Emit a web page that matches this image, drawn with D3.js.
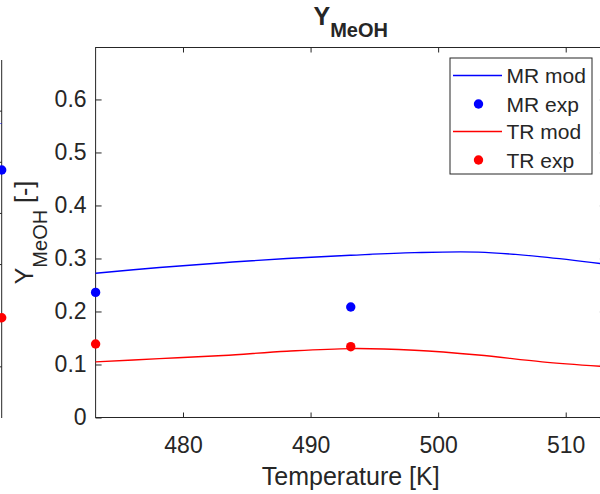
<!DOCTYPE html>
<html>
<head>
<meta charset="utf-8">
<script src="https://cdn.jsdelivr.net/npm/d3@7"></script>
<style>
  html, body { margin: 0; padding: 0; background: #fff; }
  svg { display: block; }
  text { font-family: "Liberation Sans", Arial, sans-serif; fill: #262626; }
</style>
</head>
<body>
<svg id="chart" width="600" height="494"></svg>
<script>
// ---- data ----
const temps = [473.15, 478.15, 483.15, 488.15, 493.15, 498.15, 503.15, 508.15, 513.15];
const mrMod = [0.272, 0.283, 0.292, 0.300, 0.306, 0.311, 0.312, 0.303, 0.289];
const trMod = [0.105, 0.111, 0.117, 0.125, 0.130, 0.127, 0.118, 0.105, 0.096];
const expTemps = [473.15, 493.15];
const mrExp = [0.236, 0.2085];
const trExp = [0.1387, 0.1336];
const xTicks = [480, 490, 500, 510];
const yTicks = [0, 0.1, 0.2, 0.3, 0.4, 0.5, 0.6];
const legendLabels = ["MR mod", "MR exp", "TR mod", "TR exp"];

// neighbouring (cut-off) subplot on the left
const leftTemps = [508.15, 513.15];
const leftMrMod = [0.580, 0.577];
const leftExpTemps = [513.15];
const leftMrExp = [0.485];
const leftTrExp = [0.196];
const leftYTicks = [0.1, 0.2, 0.3, 0.4, 0.5, 0.6];

const BLUE = "#0000ff", RED = "#ff0000", AX = "#262626";

const svg = d3.select("#chart");

// ---- main axes ----
const x = d3.scaleLinear().domain([473.15, 513.15]).range([95.6, 605.9]);
const y = d3.scaleLinear().domain([0, 0.698]).range([417.5, 47.5]);

const g = svg.append("g");

// box
g.append("rect")
  .attr("x", x.range()[0]).attr("y", y.range()[1])
  .attr("width", x.range()[1] - x.range()[0])
  .attr("height", y.range()[0] - y.range()[1])
  .attr("fill", "none").attr("stroke", AX).attr("stroke-width", 1);

function styleAxis(sel) {
  sel.select(".domain").remove();
  sel.selectAll(".tick line").attr("stroke", AX).attr("stroke-width", 1);
  sel.selectAll(".tick text").attr("fill", AX)
    .style("font-family", '"Liberation Sans", Arial, sans-serif')
    .style("font-size", "23px");
}

g.append("g").attr("transform", `translate(0,${y.range()[0]})`)
  .call(d3.axisBottom(x).tickValues(xTicks).tickFormat(d3.format("d"))
        .tickSize(-5).tickSizeOuter(0).tickPadding(19))
  .call(styleAxis);
g.append("g").attr("transform", `translate(0,${y.range()[1]})`)
  .call(d3.axisTop(x).tickValues(xTicks).tickFormat("")
        .tickSize(-5).tickSizeOuter(0))
  .call(styleAxis);
g.append("g").attr("transform", `translate(${x.range()[0]},0)`)
  .call(d3.axisLeft(y).tickValues(yTicks)
        .tickFormat(d => d === 0 ? "0" : d3.format(".1f")(d))
        .tickSize(-6).tickSizeOuter(0).tickPadding(9))
  .call(styleAxis);
g.append("g").attr("transform", `translate(${x.range()[1]},0)`)
  .call(d3.axisRight(y).tickValues(yTicks).tickFormat("")
        .tickSize(-6).tickSizeOuter(0))
  .call(styleAxis);

// lines
const line = d3.line().x(d => x(d[0])).y(d => y(d[1])).curve(d3.curveCatmullRom);
g.append("path").datum(temps.map((t, i) => [t, mrMod[i]]))
  .attr("d", line).attr("fill", "none").attr("stroke", BLUE).attr("stroke-width", 1.4);
g.append("path").datum(temps.map((t, i) => [t, trMod[i]]))
  .attr("d", line).attr("fill", "none").attr("stroke", RED).attr("stroke-width", 1.4);

// points
g.selectAll(".mrexp").data(expTemps.map((t, i) => [t, mrExp[i]])).enter()
  .append("circle").attr("cx", d => x(d[0])).attr("cy", d => y(d[1]))
  .attr("r", 4.7).attr("fill", BLUE);
g.selectAll(".trexp").data(expTemps.map((t, i) => [t, trExp[i]])).enter()
  .append("circle").attr("cx", d => x(d[0])).attr("cy", d => y(d[1]))
  .attr("r", 4.7).attr("fill", RED);

// ---- left cut-off subplot ----
const xl = d3.scaleLinear().domain([473.15, 513.15]).range([1.7 - 510, 1.7]);
const yl = d3.scaleLinear().domain([0, 0.7]).range([418, 60]);
const gl = svg.append("g");
gl.append("line").attr("x1", xl.range()[1]).attr("x2", xl.range()[1])
  .attr("y1", yl.range()[1]).attr("y2", yl.range()[0])
  .attr("stroke", AX).attr("stroke-width", 1);
gl.selectAll(".lt").data(leftYTicks).enter().append("line")
  .attr("x1", xl.range()[1] - 6).attr("x2", xl.range()[1])
  .attr("y1", d => yl(d)).attr("y2", d => yl(d))
  .attr("stroke", AX).attr("stroke-width", 1);
const linel = d3.line().x(d => xl(d[0])).y(d => yl(d[1]));
gl.append("path").datum(leftTemps.map((t, i) => [t, leftMrMod[i]]))
  .attr("d", linel).attr("fill", "none").attr("stroke", BLUE).attr("stroke-width", 1.4);
gl.selectAll(".lmr").data(leftExpTemps.map((t, i) => [t, leftMrExp[i]])).enter()
  .append("circle").attr("cx", d => xl(d[0])).attr("cy", d => yl(d[1]))
  .attr("r", 4.7).attr("fill", BLUE);
gl.selectAll(".ltr").data(leftExpTemps.map((t, i) => [t, leftTrExp[i]])).enter()
  .append("circle").attr("cx", d => xl(d[0])).attr("cy", d => yl(d[1]))
  .attr("r", 4.7).attr("fill", RED);

// ---- texts ----
const cx = (x.range()[0] + x.range()[1]) / 2;
const title = svg.append("text").attr("x", cx).attr("y", 25)
  .attr("text-anchor", "middle").style("font-weight", "bold").style("font-size", "25px");
title.append("tspan").text("Y");
title.append("tspan").attr("dy", 12).style("font-size", "20px").text("MeOH");

svg.append("text").attr("x", cx).attr("y", 485)
  .attr("text-anchor", "middle").style("font-size", "25px").text("Temperature [K]");

const cy = (y.range()[0] + y.range()[1]) / 2;
const yl2 = svg.append("text").attr("transform", `translate(33,${cy}) rotate(-90)`)
  .attr("text-anchor", "middle").style("font-size", "25px");
yl2.append("tspan").text("Y");
yl2.append("tspan").attr("dy", 14).style("font-size", "20px").text("MeOH");
yl2.append("tspan").attr("dy", -14).text(" [-]");

// ---- legend ----
const lg = svg.append("g");
lg.append("rect").attr("x", 450).attr("y", 58).attr("width", 142).attr("height", 116)
  .attr("fill", "#fff").attr("stroke", AX).attr("stroke-width", 1);
const rowsY = [75.5, 104, 131.5, 160];
const kinds = [["line", BLUE], ["dot", BLUE], ["line", RED], ["dot", RED]];
legendLabels.forEach((lab, i) => {
  const [k, c] = kinds[i];
  if (k === "line") {
    lg.append("line").attr("x1", 453).attr("x2", 502).attr("y1", rowsY[i]).attr("y2", rowsY[i])
      .attr("stroke", c).attr("stroke-width", 1.4);
  } else {
    lg.append("circle").attr("cx", 478.5).attr("cy", rowsY[i]).attr("r", 4.7).attr("fill", c);
  }
  lg.append("text").attr("x", 506.5).attr("y", rowsY[i]).attr("dy", "0.36em")
    .style("font-size", "21px").text(lab);
});
</script>
</body>
</html>
